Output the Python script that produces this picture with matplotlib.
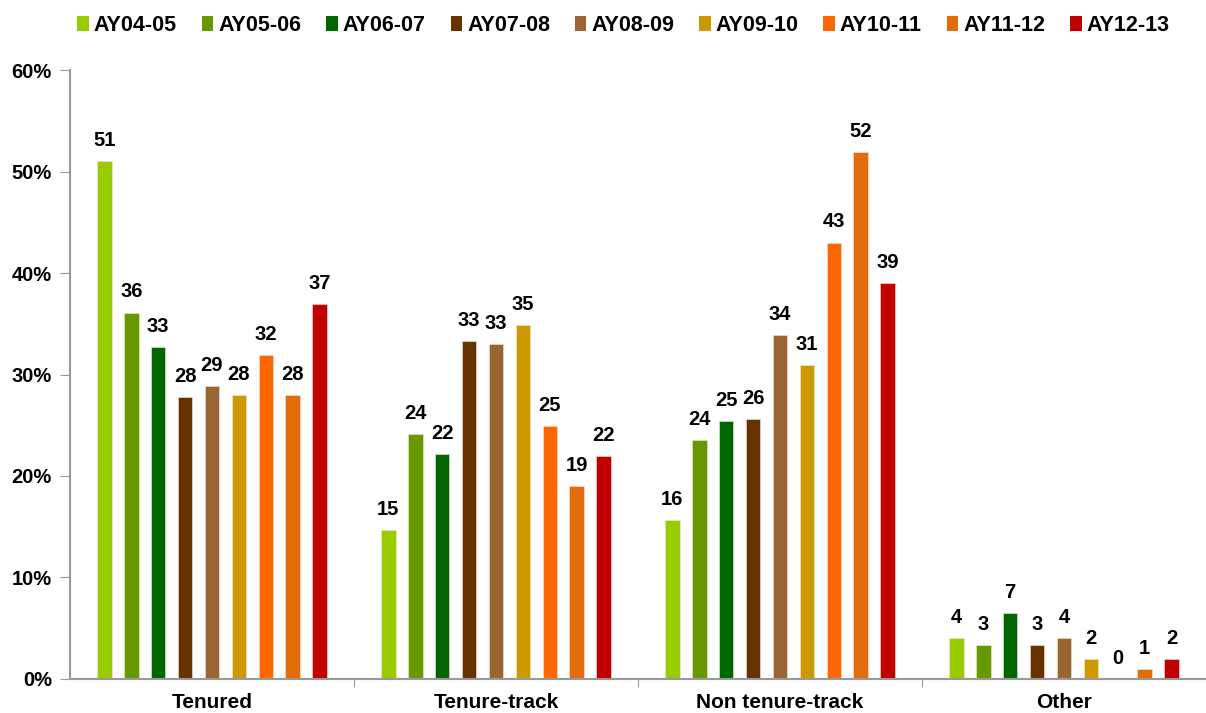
import matplotlib
matplotlib.use("Agg")
import matplotlib.pyplot as plt
from matplotlib.patches import Patch
import numpy as np

plt.rcParams["font.family"] = ["Liberation Sans", "DejaVu Sans"]
plt.rcParams["font.weight"] = "bold"

categories = ["Tenured", "Tenure-track", "Non tenure-track", "Other"]
years = ["AY04-05", "AY05-06", "AY06-07", "AY07-08", "AY08-09",
         "AY09-10", "AY10-11", "AY11-12", "AY12-13"]
colors = ["#99CC00", "#669900", "#006600", "#663300", "#996633",
          "#CC9900", "#FF6600", "#E36C0A", "#C00000"]

# percent share per year, one list per category
tenured = [51.0, 36.1, 32.7, 27.8, 28.9, 28.0, 31.9, 28.0, 36.9]
tenure_track = [14.7, 24.1, 22.2, 33.3, 33.0, 34.9, 24.9, 19.0, 22.0]
non_tenure_track = [15.7, 23.5, 25.4, 25.6, 33.9, 30.9, 43.0, 51.9, 39.0]
other = [4.0, 3.3, 6.5, 3.3, 4.0, 2.0, 0.0, 1.0, 2.0]

tenured_labels = [51, 36, 33, 28, 29, 28, 32, 28, 37]
tenure_track_labels = [15, 24, 22, 33, 33, 35, 25, 19, 22]
non_tenure_track_labels = [16, 24, 25, 26, 34, 31, 43, 52, 39]
other_labels = [4, 3, 7, 3, 4, 2, 0, 1, 2]

values = np.array([tenured, tenure_track, non_tenure_track, other])
labels = np.array([tenured_labels, tenure_track_labels,
                   non_tenure_track_labels, other_labels])

fig = plt.figure(figsize=(12.06, 7.13), dpi=100)
ax = fig.add_axes([0.058, 0.0477, 0.942, 0.8541])

x = np.arange(len(categories))
step = 0.0947
width = 0.051
for j, year in enumerate(years):
    pos = x + (j - 4) * step
    bars = ax.bar(pos, values[:, j], width=width, color=colors[j],
                  edgecolor="#f2e6d9", linewidth=0.4, zorder=2)
    for b, lab in zip(bars, labels[:, j]):
        ax.annotate(str(lab), (b.get_x() + b.get_width() / 2, b.get_height()),
                    xytext=(0, 8), textcoords="offset points",
                    ha="center", va="bottom", fontsize=14.5,
                    fontweight="bold")

ax.set_xlim(-0.5, len(categories) - 0.5)
ax.set_ylim(0, 60)
ax.set_yticks(np.arange(0, 61, 10))
ax.set_yticklabels([f"{v}%" for v in range(0, 61, 10)])

ax.set_xticks(np.arange(0.5, len(categories) - 0.5, 1))
ax.set_xticklabels([])
ax.set_xticks(x, minor=True)
ax.set_xticklabels(categories, minor=True)
ax.tick_params(axis="x", which="minor", length=0, pad=10, labelsize=15)
ax.tick_params(axis="x", which="major", length=6, color="#999999",
               direction="out")
ax.tick_params(axis="y", length=7, color="#999999", direction="out",
               labelsize=14.5, pad=6)

for side in ["top", "right"]:
    ax.spines[side].set_visible(False)
for side in ["left", "bottom"]:
    ax.spines[side].set_color("#999999")
    ax.spines[side].set_linewidth(1.5)

handles = [Patch(facecolor=c, edgecolor="none") for c in colors]
fig.legend(handles, years, loc="upper center", ncol=9, frameon=False,
           bbox_to_anchor=(0.517, 1.006), handlelength=0.53, handleheight=0.75,
           handletextpad=0.23, columnspacing=1.16,
           prop={"weight": "bold", "size": 15.5})

fig.savefig("out.png", dpi=100)
